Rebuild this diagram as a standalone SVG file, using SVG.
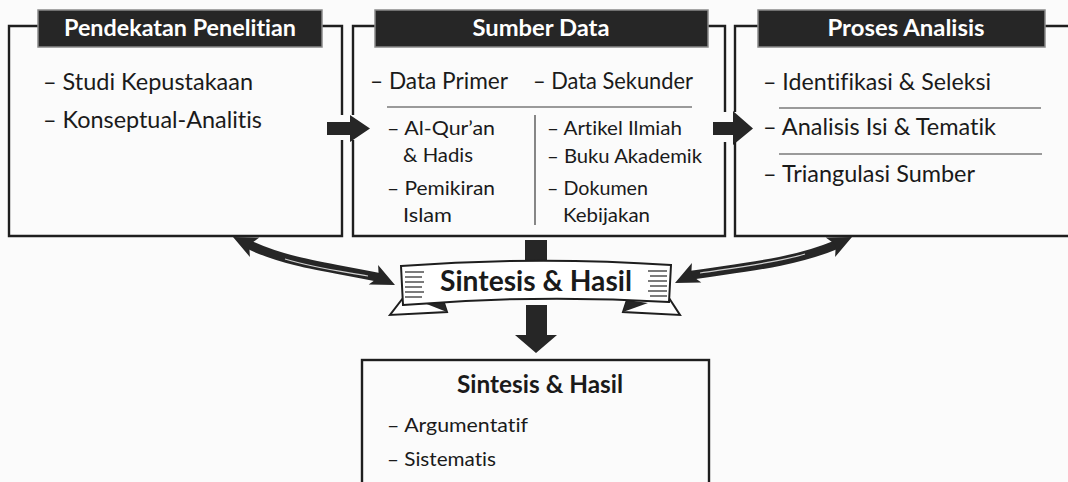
<svg xmlns="http://www.w3.org/2000/svg" width="1068" height="482" viewBox="0 0 1068 482">
<style>
text{font-variant-ligatures:none}
.frame{fill:none;stroke:#1e1e1e;stroke-width:2.4}
.bar{fill:#262626;stroke:#8a8a8a;stroke-width:1.5}
.ttl{font-family:Lato,"Noto Sans",sans-serif;font-weight:700;font-size:23px;fill:#ffffff;text-anchor:middle}
.it{font-family:Lato,"Noto Sans",sans-serif;font-size:23px;fill:#1a1a1a}
.sm{font-family:Lato,"Noto Sans",sans-serif;font-size:20px;fill:#1a1a1a}
.rule{stroke:#3a3a3a;stroke-width:1.2;fill:none}
.dark{fill:#262626}
.body{fill:none;stroke:#262626;stroke-width:9;stroke-linecap:round}
.hl{fill:none;stroke:#d0d0d0;stroke-width:1.2}
.hatch{stroke:#333;stroke-width:1.3}
.bn{fill:#ffffff;stroke:#1e1e1e;stroke-width:2}
</style>
<rect x="0" y="0" width="1068" height="482" fill="#fbfbfb"/>

<g id="connectors">
  <polygon class="dark" points="327,122 350,122 350,115 370,128.5 350,142 350,135 327,135"/>
  <polygon class="dark" points="713,122 733,122 733,111 753,128.5 733,145 733,135 713,135"/>
  <rect class="dark" x="525" y="240" width="22" height="24"/>
  <polygon class="dark" points="526,305 547,305 547,335 557,335 536,353 515,335 526,335"/>
  <path class="body" d="M249.2,244.8 C290,264 335,268 378.8,277.3"/>
  <path class="hl" d="M285,259 C315,268 340,271 368,276"/>
  <polygon class="dark" points="233,237 259.3,237.6 249.2,244.8 249.9,257"/>
  <polygon class="dark" points="395,285 368.7,284.4 378.8,277.3 378.1,265"/>
  <path class="body" d="M691.2,275.3 C735,268 790,264 835.8,244.8"/>
  <path class="hl" d="M700,273 C740,267 780,262 805,254"/>
  <polygon class="dark" points="675,283 691.9,263 691.2,275.3 701.3,282.4"/>
  <polygon class="dark" points="852,237 835.1,257 835.8,244.8 825.7,237.6"/>
</g>

<g id="box-pendekatan">
  <path class="frame" d="M38,26 H9 V236 H342 V140 M342,115 V26 H322"/>
  <rect class="bar" x="38" y="10" width="284" height="37"/>
  <text class="ttl" x="180" y="36" textLength="232" lengthAdjust="spacingAndGlyphs">Pendekatan Penelitian</text>
  <text class="it" x="43" y="90" textLength="210" lengthAdjust="spacingAndGlyphs">– Studi Kepustakaan</text>
  <text class="it" x="43" y="128" textLength="219" lengthAdjust="spacingAndGlyphs">– Konseptual-Analitis</text>
</g>

<g id="box-sumber">
  <path class="frame" d="M375,26 H353 V115 M353,140 V236 H725 V142 M725,112 V26 H708"/>
  <rect class="bar" x="375" y="10" width="333" height="37"/>
  <text class="ttl" x="541" y="36" textLength="137" lengthAdjust="spacingAndGlyphs">Sumber Data</text>
  <text class="it" x="370" y="89" textLength="138" lengthAdjust="spacingAndGlyphs">– Data Primer</text>
  <text class="it" x="533" y="89" textLength="160" lengthAdjust="spacingAndGlyphs">– Data Sekunder</text>
  <line class="rule" x1="387" y1="107" x2="692" y2="107"/>
  <line class="rule" x1="535" y1="115" x2="535" y2="225"/>
  <text class="sm" x="387" y="135" textLength="108" lengthAdjust="spacingAndGlyphs">– Al-Qur’an</text>
  <text class="sm" x="403" y="162" textLength="70" lengthAdjust="spacingAndGlyphs">&amp; Hadis</text>
  <text class="sm" x="387" y="195" textLength="108" lengthAdjust="spacingAndGlyphs">– Pemikiran</text>
  <text class="sm" x="403" y="222" textLength="49" lengthAdjust="spacingAndGlyphs">Islam</text>
  <text class="sm" x="547" y="135" textLength="135" lengthAdjust="spacingAndGlyphs">– Artikel Ilmiah</text>
  <text class="sm" x="547" y="163" textLength="155" lengthAdjust="spacingAndGlyphs">– Buku Akademik</text>
  <text class="sm" x="547" y="195" textLength="101" lengthAdjust="spacingAndGlyphs">– Dokumen</text>
  <text class="sm" x="563" y="222" textLength="87" lengthAdjust="spacingAndGlyphs">Kebijakan</text>
</g>

<g id="box-proses">
  <path class="frame" d="M758,26 H735 V112 M735,142 V236 H1070 M1045,26 H1070"/>
  <rect class="bar" x="758" y="10" width="287" height="37"/>
  <text class="ttl" x="906" y="36" textLength="157" lengthAdjust="spacingAndGlyphs">Proses Analisis</text>
  <text class="it" x="763" y="90" textLength="228" lengthAdjust="spacingAndGlyphs">– Identifikasi &amp; Seleksi</text>
  <line class="rule" x1="779" y1="108" x2="1041" y2="108"/>
  <text class="it" x="763" y="135" textLength="233" lengthAdjust="spacingAndGlyphs">– Analisis Isi &amp; Tematik</text>
  <line class="rule" x1="779" y1="154" x2="1042" y2="154"/>
  <text class="it" x="763" y="182" textLength="212" lengthAdjust="spacingAndGlyphs">– Triangulasi Sumber</text>
</g>

<g id="banner-sintesis">
  <polygon class="bn" points="403,298 390,315 447,312 443,300"/>
  <polygon class="dark" points="424,303 447,312 443,300"/>
  <polygon class="bn" points="669,298 680,315 623,312 627,300"/>
  <polygon class="dark" points="648,303 623,312 627,300"/>
  <path class="bn" d="M401,266 Q536,256 671,265 L669,302 Q536,294 403,305 Z"/>
  <g class="hatch">
    <line x1="405" y1="272" x2="424" y2="272"/>
    <line x1="405" y1="277" x2="422" y2="277"/>
    <line x1="405" y1="282" x2="424" y2="282"/>
    <line x1="405" y1="287" x2="422" y2="287"/>
    <line x1="405" y1="292" x2="424" y2="292"/>
    <line x1="405" y1="297" x2="422" y2="297"/>
    <line x1="648" y1="271" x2="667" y2="271"/>
    <line x1="650" y1="276" x2="667" y2="276"/>
    <line x1="648" y1="281" x2="667" y2="281"/>
    <line x1="650" y1="286" x2="667" y2="286"/>
    <line x1="648" y1="291" x2="667" y2="291"/>
    <line x1="650" y1="296" x2="667" y2="296"/>
  </g>
  <text x="536" y="291" text-anchor="middle" font-family="Lato,'Noto Sans',sans-serif" font-weight="700" font-size="28" fill="#1a1a1a" textLength="192" lengthAdjust="spacingAndGlyphs">Sintesis &amp; Hasil</text>
</g>

<g id="box-hasil">
  <rect class="frame" x="362" y="360" width="347" height="140"/>
  <text x="540" y="393" text-anchor="middle" font-family="Lato,'Noto Sans',sans-serif" font-weight="700" font-size="24" fill="#1a1a1a" textLength="166" lengthAdjust="spacingAndGlyphs">Sintesis &amp; Hasil</text>
  <text class="sm" x="387" y="432" textLength="141" lengthAdjust="spacingAndGlyphs">– Argumentatif</text>
  <text class="sm" x="387" y="466" textLength="109" lengthAdjust="spacingAndGlyphs">– Sistematis</text>
</g>
</svg>
